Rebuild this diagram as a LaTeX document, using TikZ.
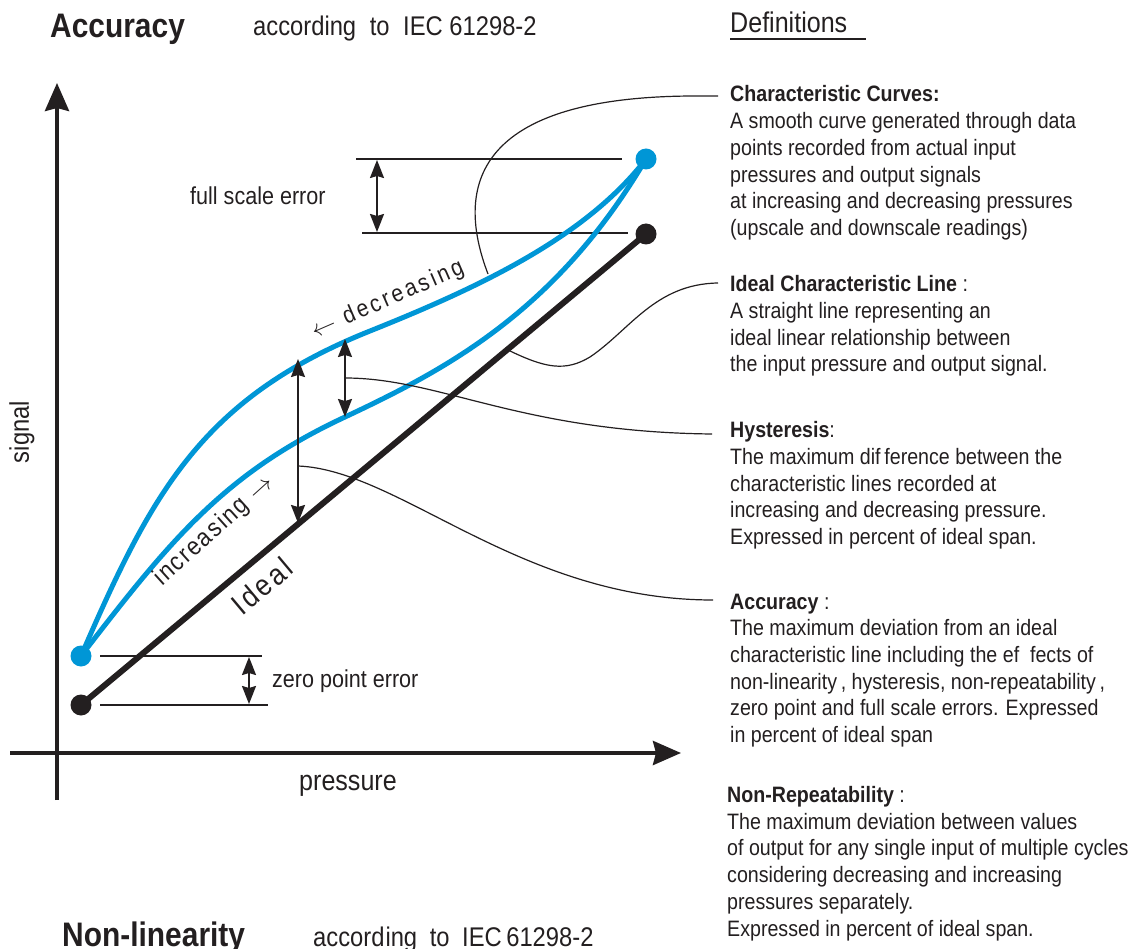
\documentclass[tikz,border=0pt]{standalone}
\usepackage{fontspec}
\setmainfont[FakeStretch=0.88]{Liberation Sans}
\usetikzlibrary{arrows.meta}
\definecolor{cblue}{HTML}{0096D6}
\definecolor{cblack}{HTML}{231F20}
\tikzset{
  axisline/.style={cblack, line width=4pt, -{Stealth[length=28pt,width=24pt,inset=3pt]}},
  blueline/.style={cblue, line width=5pt, line cap=round},
  idealline/.style={cblack, line width=6pt},
  dimarrow/.style={cblack, line width=2pt, {Stealth[length=18pt,width=14pt,inset=2pt]}-{Stealth[length=18pt,width=14pt,inset=2pt]}},
  guide/.style={cblack, line width=1.3pt},
  leader/.style={cblack, line width=1.2pt},
  bluedot/.style={circle, fill=cblue, inner sep=0pt, minimum size=21pt},
  blackdot/.style={circle, fill=cblack, inner sep=0pt, minimum size=21pt},
  body/.style={font=\fontsize{22.3}{26.7}\selectfont, align=left, anchor=base west, inner sep=0pt, text=cblack},
  lbl/.style={font=\fontsize{24.5}{29}\selectfont, inner sep=0pt, text=cblack},
  ttl/.style={anchor=base west, inner sep=0pt, font=\fontsize{34}{40}\selectfont\bfseries, text=cblack},
  subttl/.style={anchor=base west, inner sep=0pt, font=\fontsize{27}{32}\selectfont, text=cblack},
}
\begin{document}
\begin{tikzpicture}[x=1pt,y=-1pt]
\useasboundingbox (0,0) rectangle (1146,949);

% titles
\node[ttl] (t1) at (50,38) {Accuracy};
\node[subttl] (t1s) at (253,36) {according\hspace{7pt} to\hspace{7pt} IEC 61298-2};
\node[subttl, font=\fontsize{28.5}{33}\selectfont] (tdef) at (730,33) {Definitions};
\coordinate (ul1) at (730,39);
\coordinate (ul2) at (866,39);
\draw[cblack, line width=1.3pt] (ul1) -- (ul2);

\node[ttl] (t2) at (62,946) {Non-linearity};
\node[subttl] (t2s) at (313,946) {accord\hspace{1pt}ing\hspace{6pt} to\hspace{6pt} IEC\,61298-2};

% axes
\coordinate (ybot) at (57,800);
\coordinate (ytop) at (57,83);
\coordinate (xl) at (10,753);
\coordinate (xr) at (681,753);
\draw[axisline] (ybot) -- (ytop);
\draw[axisline] (xl) -- (xr);
\node[lbl, rotate=90, font=\fontsize{27}{32}\selectfont] (sig) at (22,432) {signal};
\node[lbl, font=\fontsize{28.5}{33}\selectfont] (pres) at (348,786) {pressure};

% guide lines
\coordinate (fs1a) at (356,159); \coordinate (fs1b) at (622,159);
\coordinate (fs2a) at (362,233); \coordinate (fs2b) at (628,233);
\draw[guide] (fs1a) -- (fs1b);
\draw[guide] (fs2a) -- (fs2b);
\coordinate (zp1a) at (100,656); \coordinate (zp1b) at (262,656);
\coordinate (zp2a) at (100,705); \coordinate (zp2b) at (268,705);
\draw[guide] (zp1a) -- (zp1b);
\draw[guide] (zp2a) -- (zp2b);

% ideal line
\coordinate (i0) at (81,705);
\coordinate (i1) at (646,234);
\draw[idealline] (i0) -- (i1);

% characteristic curves
\coordinate (p0) at (81,656);
\coordinate (p1) at (646,159);
\coordinate (dm) at (370,331);
\coordinate (im) at (345,417);
\draw[blueline] (p0) .. controls (151,495) and (200,399) .. (dm)
                     .. controls (480,287) and (586,237) .. (p1);
\draw[blueline] (p0) .. controls (171,539) and (225,473) .. (im)
                     .. controls (445,370) and (556,312) .. (p1);

% dots
\node[bluedot] (b0) at (p0) {};
\node[bluedot] (b1) at (p1) {};
\node[blackdot] (k0) at (i0) {};
\node[blackdot] (k1) at (i1) {};

% dimension arrows
\coordinate (fsT) at (377,160); \coordinate (fsB) at (377,232);
\draw[dimarrow] (fsT) -- (fsB);
\coordinate (zpT) at (249,657); \coordinate (zpB) at (249,704);
\draw[dimarrow] (zpT) -- (zpB);
\coordinate (hyT) at (345,339); \coordinate (hyB) at (345,417);
\draw[dimarrow] (hyT) -- (hyB);
\coordinate (acT) at (298,359); \coordinate (acB) at (298,523);
\draw[dimarrow] (acT) -- (acB);

% labels
\node[lbl, anchor=west] (fsl) at (190,196) {full scale error};
\node[lbl, anchor=west] (zpl) at (272,681) {zero point error};
\node[lbl, rotate=23.5, font=\fontsize{24}{29}\selectfont\addfontfeature{LetterSpace=12}] (dec) at (388,300) {\(\leftarrow\) decreasing};
\node[lbl, rotate=42, font=\fontsize{25.5}{30}\selectfont\addfontfeature{LetterSpace=7}] (inc) at (214,531) {increasing \(\rightarrow\)};
\node[lbl, rotate=40, font=\fontsize{30}{35}\selectfont\addfontfeature{LetterSpace=10}] (idl) at (262,586) {Ideal};

% leader lines
\coordinate (c1s) at (488,274); \coordinate (c1e) at (718,96);
\draw[leader] (c1s) .. controls (452,180) and (482,95) .. (700,96) -- (c1e);
\coordinate (c2s) at (508,350); \coordinate (c2e) at (718,283);
\draw[leader] (c2s) .. controls (545,368) and (565,372) .. (590,357) .. controls (630,330) and (655,284) .. (c2e);
\coordinate (c3s) at (345,378); \coordinate (c3e) at (712,434);
\draw[leader] (c3s) .. controls (440,378) and (520,432) .. (c3e);
\coordinate (c4s) at (298,466); \coordinate (c4e) at (713,600);
\draw[leader] (c4s) .. controls (400,470) and (520,600) .. (c4e);

% definitions (anchored at the baseline of the last line)
\node[body] (d1) at (730,235.5) {\textbf{Characteristic Curves:}\\
A smooth curve generated through data\\
points recorded from actual input\\
pressures and output signals\\
at increasing and decreasing pressures\\
(upscale and downscale readings)};
\node[body] (d2) at (730,372) {\textbf{Ideal Characteristic Line} :\\
A straight line representing an\\
ideal linear relationship between\\
the input pressure and output signal.};
\node[body] (d3) at (730,544.5) {\textbf{Hysteresis}:\\
The maximum dif\,ference between the\\
characteristic lines recorded at\\
increasing and decreasing pressure.\\
Expressed in percent of ideal span.};
\node[body] (d4) at (730,742.5) {\textbf{Accuracy} :\\
The maximum deviation from an ideal\\
characteristic line including the ef\ \ fects of\\
non-linearity\,, hysteresis, non-repeatability\,,\\
zero point and full scale errors. Expressed\\
in percent of ideal span};
\node[body] (d5) at (727,936) {\textbf{Non-Repeatability} :\\
The maximum deviation between values\\
of output for any single input of multiple cycles\\
considering decreasing and increasing\\
pressures separately.\\
Expressed in percent of ideal span.};
\end{tikzpicture}
\end{document}
